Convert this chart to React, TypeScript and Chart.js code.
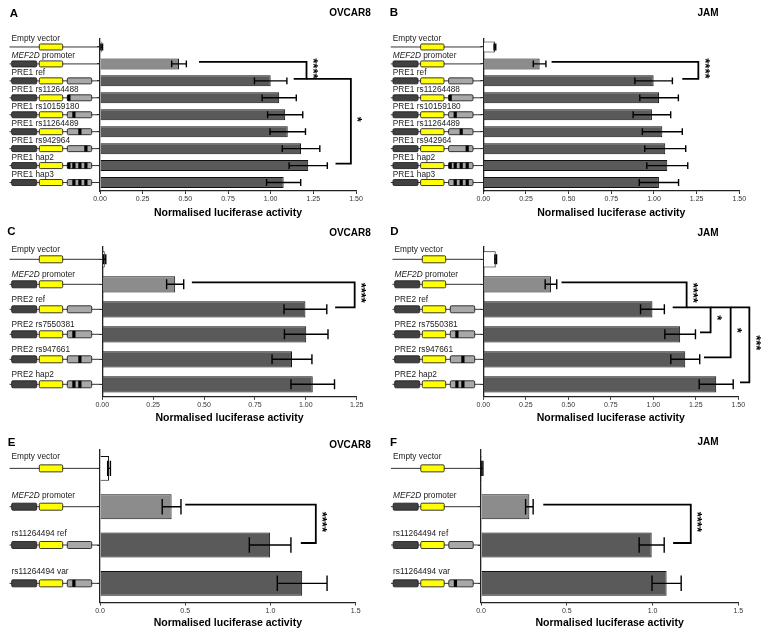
import React, { useEffect, useRef } from 'react';
import { Chart, registerables } from 'chart.js';

Chart.register(...registerables);

const FONT = '"Liberation Sans", Arial, sans-serif';

// ---------- data ----------
const labelsPre1 = ['Empty vector', 'MEF2D promoter', 'PRE1 ref', 'PRE1 rs11264488', 'PRE1 rs10159180', 'PRE1 rs11264489', 'PRE1 rs942964', 'PRE1 hap2', 'PRE1 hap3'];
const constructsPre1 = ['empty', 'prom', 'pre', 'pre:1', 'pre:2', 'pre:3', 'pre:4', 'pre:1234', 'pre:234'];
const valuesA = [0.01, 0.463, 1.0, 1.05, 1.085, 1.1, 1.178, 1.22, 1.076];
const errorsA = [0.005, 0.043, 0.095, 0.1, 0.103, 0.104, 0.11, 0.112, 0.1];
const valuesB = [0.068, 0.33, 0.998, 1.03, 0.988, 1.049, 1.066, 1.078, 1.029];
const errorsB = [0.005, 0.037, 0.11, 0.113, 0.11, 0.117, 0.12, 0.12, 0.115];

const labelsPre2 = ['Empty vector', 'MEF2D promoter', 'PRE2 ref', 'PRE2 rs7550381', 'PRE2 rs947661', 'PRE2 hap2'];
const constructsPre2 = ['empty', 'prom', 'pre', 'pre:2', 'pre:3', 'pre:23'];
const valuesC = [0.012, 0.358, 0.998, 1.002, 0.932, 1.034];
const errorsC = [0.005, 0.042, 0.105, 0.107, 0.098, 0.107];
const valuesD = [0.073, 0.398, 0.995, 1.158, 1.188, 1.37];
const errorsD = [0.005, 0.034, 0.07, 0.09, 0.085, 0.1];

const labelsSnp = ['Empty vector', 'MEF2D promoter', 'rs11264494 ref', 'rs11264494 var'];
const constructsSnp = ['empty', 'prom', 'pre', 'pre:2'];
const valuesE = [0.053, 0.42, 0.998, 1.186];
const errorsE = [0.008, 0.055, 0.122, 0.146];
const valuesF = [0.006, 0.282, 0.995, 1.082];
const errorsF = [0.005, 0.022, 0.073, 0.085];

const xTitle = 'Normalised luciferase activity';

type Bracket = { from: number; to: number; at: number; startFrom: number; startTo: number; stars: string };
const bracketsA: Bracket[] = [
  { from: 1, to: 2, at: 1.21, startFrom: 0.58, startTo: 1.135, stars: '****' },
  { from: 2, to: 7, at: 1.47, startFrom: 1.21, startTo: 1.38, stars: '*' },
];
const bracketsB: Bracket[] = [{ from: 1, to: 2, at: 1.26, startFrom: 0.4, startTo: 1.166, stars: '****' }];
const bracketsC: Bracket[] = [{ from: 1, to: 2, at: 1.24, startFrom: 0.44, startTo: 1.144, stars: '****' }];
const bracketsD: Bracket[] = [
  { from: 1, to: 2, at: 1.196, startFrom: 0.46, startTo: 1.114, stars: '****' },
  { from: 2, to: 3, at: 1.337, startFrom: 1.196, startTo: 1.275, stars: '*' },
  { from: 2, to: 4, at: 1.455, startFrom: 1.337, startTo: 1.298, stars: '*' },
  { from: 2, to: 5, at: 1.565, startFrom: 1.455, startTo: 1.51, stars: '***' },
];
const bracketsE: Bracket[] = [{ from: 1, to: 2, at: 1.266, startFrom: 0.5, startTo: 1.178, stars: '****' }];
const bracketsF: Bracket[] = [{ from: 1, to: 2, at: 1.223, startFrom: 0.363, startTo: 1.12, stars: '****' }];

// ---------- layout (pixels) ----------
const PANELS = [
  { letter: 'A', cell: 'OVCAR8', labels: labelsPre1, constructs: constructsPre1, values: valuesA, errors: errorsA, brackets: bracketsA, xMax: 1.5, step: 0.25, dec: 2,
    left: 0, top: 0, w: 383, h: 226, axisX: 100, rightX: 356, topY: 38.5, axisY: 191, titleY: 213, letterPos: [14, 14], cellPos: [350, 13.5], diagDx: 0, boxH: 6, labelDy: -6 },
  { letter: 'B', cell: 'JAM', labels: labelsPre1, constructs: constructsPre1, values: valuesB, errors: errorsB, brackets: bracketsB, xMax: 1.5, step: 0.25, dec: 2,
    left: 383, top: 0, w: 383, h: 226, axisX: 100.3, rightX: 356.3, topY: 38.5, axisY: 191, titleY: 213, letterPos: [11, 13], cellPos: [325, 13], diagDx: -1.7, boxH: 6, labelDy: -6 },
  { letter: 'C', cell: 'OVCAR8', labels: labelsPre2, constructs: constructsPre2, values: valuesC, errors: errorsC, brackets: bracketsC, xMax: 1.25, step: 0.25, dec: 2,
    left: 0, top: 218, w: 383, h: 212, axisX: 102.3, rightX: 356.7, topY: 28.8, axisY: 178.8, titleY: 200, letterPos: [11.5, 13.5], cellPos: [350, 15.5], diagDx: 0, boxH: 7, labelDy: -7 },
  { letter: 'D', cell: 'JAM', labels: labelsPre2, constructs: constructsPre2, values: valuesD, errors: errorsD, brackets: bracketsD, xMax: 1.5, step: 0.25, dec: 2,
    left: 383, top: 218, w: 383, h: 212, axisX: 100.3, rightX: 355.3, topY: 28.8, axisY: 178.8, titleY: 200, letterPos: [11.5, 13.5], cellPos: [325, 15.5], diagDx: 0, boxH: 7, labelDy: -7 },
  { letter: 'E', cell: 'OVCAR8', labels: labelsSnp, constructs: constructsSnp, values: valuesE, errors: errorsE, brackets: bracketsE, xMax: 1.5, step: 0.5, dec: 1,
    left: 0, top: 430, w: 383, h: 213, axisX: 100, rightX: 355.7, topY: 19.2, axisY: 172.5, titleY: 193, letterPos: [11.5, 12.5], cellPos: [350, 15], diagDx: 0, boxH: 7, labelDy: -9 },
  { letter: 'F', cell: 'JAM', labels: labelsSnp, constructs: constructsSnp, values: valuesF, errors: errorsF, brackets: bracketsF, xMax: 1.5, step: 0.5, dec: 1,
    left: 383, top: 430, w: 383, h: 213, axisX: 98, rightX: 355.3, topY: 19.2, axisY: 172.5, titleY: 193, letterPos: [10.5, 12.5], cellPos: [325, 12], diagDx: -1.5, boxH: 7, labelDy: -9 },
];

type PanelCfg = typeof PANELS[number];

function box(ctx: CanvasRenderingContext2D, x: number, y: number, w: number, h: number, fill: string) {
  ctx.beginPath();
  if ((ctx as any).roundRect) (ctx as any).roundRect(x, y, w, h, 1.2);
  else ctx.rect(x, y, w, h);
  ctx.fillStyle = fill;
  ctx.fill();
  ctx.lineWidth = 0.9;
  ctx.strokeStyle = '#222';
  ctx.stroke();
}

function drawConstruct(ctx: CanvasRenderingContext2D, spec: string, y: number, dx: number, h: number, axisX: number) {
  ctx.save();
  ctx.strokeStyle = '#333';
  ctx.lineWidth = 1;
  ctx.beginPath();
  ctx.moveTo(9.5 + dx, y);
  ctx.lineTo(axisX - 1, y);
  ctx.stroke();
  if (spec !== 'empty') box(ctx, 11.7 + dx, y - h / 2, 25, h, '#414141');
  box(ctx, 39.3 + dx, y - h / 2, 23.4, h, '#ffff00');
  if (spec.startsWith('pre')) {
    const px = 67.3 + dx;
    box(ctx, px, y - h / 2, 24.4, h, '#a8a8a8');
    const slots = spec.split(':')[1] || '';
    const offs: Record<string, number> = { '1': 0, '2': 5, '3': 11, '4': 17 };
    ctx.fillStyle = '#000';
    for (const s of slots) {
      ctx.fillRect(px + offs[s], y - h / 2, 3.2, h);
    }
  }
  ctx.restore();
}

function drawLabel(ctx: CanvasRenderingContext2D, text: string, x: number, y: number) {
  ctx.save();
  ctx.fillStyle = '#1a1a1a';
  ctx.textBaseline = 'alphabetic';
  ctx.textAlign = 'left';
  if (text.startsWith('MEF2D')) {
    ctx.font = `italic 8.3px ${FONT}`;
    ctx.fillText('MEF2D', x, y);
    const w = ctx.measureText('MEF2D').width;
    ctx.font = `8.3px ${FONT}`;
    ctx.fillText(text.slice(5), x + w, y);
  } else {
    ctx.font = `8.3px ${FONT}`;
    ctx.fillText(text, x, y);
  }
  ctx.restore();
}

function Panel({ cfg }: { cfg: PanelCfg }) {
  const ref = useRef<HTMLCanvasElement | null>(null);
  useEffect(() => {
    const canvas = ref.current;
    if (!canvas) return;
    const titleLH = 10.5 * 1.2;
    const xHeight = cfg.titleY + titleLH / 2 - cfg.axisY;
    const padBottom = cfg.h - (cfg.titleY + titleLH / 2);

    const colors = cfg.values.map((_, i) => (i === 0 ? '#ffffff' : i === 1 ? '#8c8c8c' : '#5a5a5a'));

    const errorPlugin = {
      id: 'errbars' + cfg.letter,
      afterDatasetsDraw(chart: any) {
        const ctx = chart.ctx as CanvasRenderingContext2D;
        const xs = chart.scales.x;
        const meta = chart.getDatasetMeta(0);
        ctx.save();
        ctx.strokeStyle = '#000';
        ctx.lineWidth = 1.4;
        meta.data.forEach((el: any, i: number) => {
          const v = cfg.values[i];
          const e = cfg.errors[i];
          const x1 = xs.getPixelForValue(v - e);
          const x2 = xs.getPixelForValue(v + e);
          const y = el.y;
          const ch = el.height * 0.31;
          ctx.beginPath();
          ctx.moveTo(x1, y);
          ctx.lineTo(x2, y);
          ctx.moveTo(x1, y - ch);
          ctx.lineTo(x1, y + ch);
          ctx.moveTo(x2, y - ch);
          ctx.lineTo(x2, y + ch);
          ctx.stroke();
        });
        ctx.restore();
      },
    };

    const decorPlugin = {
      id: 'decor' + cfg.letter,
      afterDraw(chart: any) {
        const ctx = chart.ctx as CanvasRenderingContext2D;
        const xs = chart.scales.x;
        const ys = chart.scales.y;
        cfg.constructs.forEach((spec, i) => {
          const y = ys.getPixelForValue(i);
          drawConstruct(ctx, spec, y, cfg.diagDx, cfg.boxH, cfg.axisX);
          drawLabel(ctx, cfg.labels[i], 11.5 + cfg.diagDx, y + cfg.labelDy);
        });
        ctx.save();
        ctx.strokeStyle = '#000';
        ctx.lineWidth = 1.8;
        ctx.lineJoin = 'miter';
        cfg.brackets.forEach((b) => {
          const yA = ys.getPixelForValue(b.from) - 2;
          const yB = ys.getPixelForValue(b.to) - 2;
          const xAt = xs.getPixelForValue(b.at);
          ctx.beginPath();
          ctx.moveTo(xs.getPixelForValue(b.startFrom), yA);
          ctx.lineTo(xAt, yA);
          ctx.lineTo(xAt, yB);
          ctx.lineTo(xs.getPixelForValue(b.startTo), yB);
          ctx.stroke();
          ctx.save();
          ctx.translate(xAt + 9, (yA + yB) / 2 - 2);
          ctx.rotate(Math.PI / 2);
          ctx.fillStyle = '#000';
          ctx.font = `bold 13px ${FONT}`;
          ctx.textAlign = 'center';
          ctx.textBaseline = 'middle';
          ctx.fillText(b.stars, 0, 3);
          ctx.restore();
        });
        ctx.restore();
        ctx.save();
        ctx.fillStyle = '#000';
        ctx.textBaseline = 'middle';
        ctx.textAlign = 'center';
        ctx.font = `bold 11.5px ${FONT}`;
        ctx.fillText(cfg.letter, cfg.letterPos[0], cfg.letterPos[1]);
        ctx.font = `bold 10px ${FONT}`;
        ctx.fillText(cfg.cell, cfg.cellPos[0], cfg.cellPos[1]);
        ctx.restore();
      },
    };

    const chart = new Chart(canvas, {
      type: 'bar',
      data: {
        labels: cfg.labels,
        datasets: [
          {
            data: cfg.values,
            backgroundColor: colors,
            borderColor: '#111',
            borderWidth: 1,
            borderSkipped: 'start',
            barPercentage: 0.65,
            categoryPercentage: 1,
          },
        ],
      },
      options: {
        indexAxis: 'y',
        responsive: false,
        animation: false,
        events: [],
        layout: { padding: { left: 0, top: cfg.topY, right: cfg.w - cfg.rightX, bottom: padBottom } },
        plugins: { legend: { display: false }, tooltip: { enabled: false }, title: { display: false } },
        scales: {
          x: {
            type: 'linear',
            min: 0,
            max: cfg.xMax,
            ticks: {
              stepSize: cfg.step,
              autoSkip: false,
              maxRotation: 0,
              padding: 1,
              color: '#333',
              font: { family: FONT, size: 7 },
              callback: (v: any) => Number(v).toFixed(cfg.dec),
            },
            grid: { display: true, drawOnChartArea: false, drawTicks: true, tickLength: 3, color: '#333', lineWidth: 1 },
            border: { display: true, color: '#222', width: 1.3 },
            title: { display: true, text: xTitle, color: '#000', font: { family: FONT, size: 10.5, weight: 'bold' }, padding: { top: 0, bottom: 0 } },
            afterFit: (s: any) => {
              s.height = xHeight;
            },
          },
          y: {
            type: 'category',
            offset: true,
            ticks: { display: false },
            grid: { display: true, offset: false, drawOnChartArea: false, drawTicks: true, tickLength: 3, color: '#333', lineWidth: 1 },
            border: { display: true, color: '#222', width: 1.3 },
            afterFit: (s: any) => {
              s.width = cfg.axisX;
            },
          },
        },
      } as any,
      plugins: [errorPlugin, decorPlugin],
    });
    return () => chart.destroy();
  }, [cfg]);

  return (
    <canvas
      ref={ref}
      width={cfg.w}
      height={cfg.h}
      style={{ position: 'absolute', left: cfg.left, top: cfg.top, width: cfg.w, height: cfg.h }}
    />
  );
}

export default function App() {
  return (
    <div style={{ position: 'fixed', left: 0, top: 0, width: 766, height: 643, background: '#fff', overflow: 'hidden' }}>
      {PANELS.map((p) => (
        <Panel key={p.letter} cfg={p} />
      ))}
    </div>
  );
}
